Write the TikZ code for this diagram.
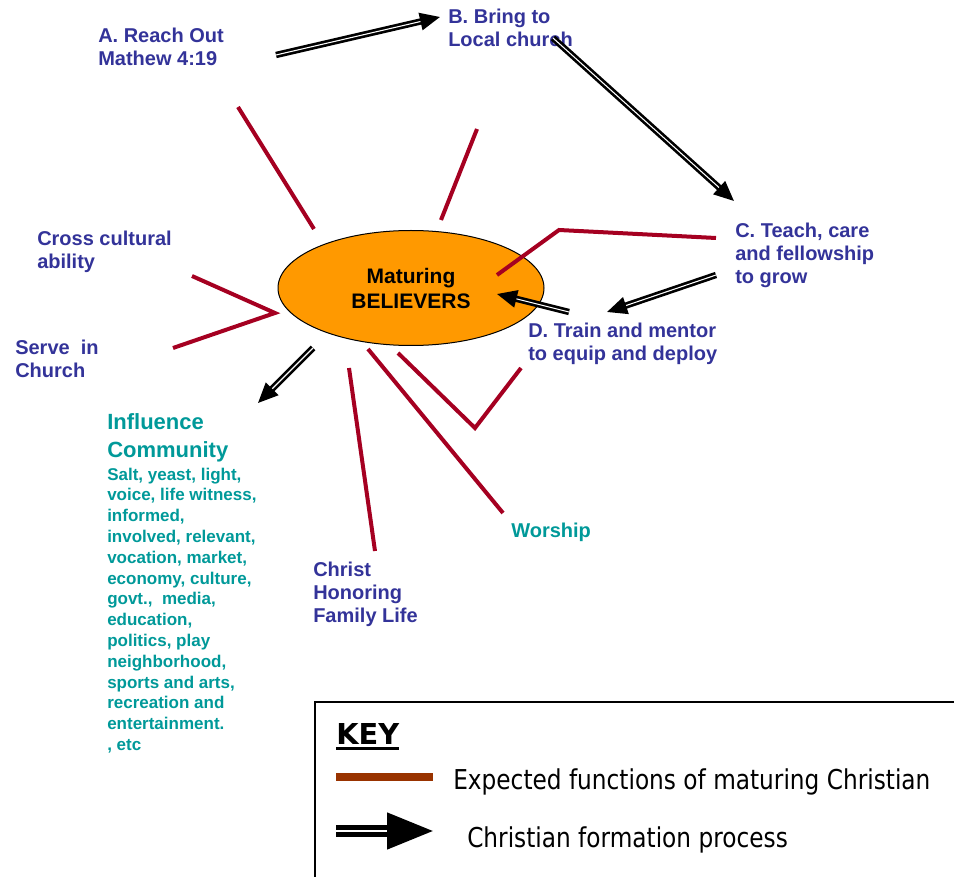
\documentclass[tikz,border=0pt]{standalone}
\usepackage{fontspec}
\setmainfont{Liberation Sans}
\newfontfamily\keyfont[FakeStretch=0.85]{DejaVu Sans}
\newfontfamily\keyhead{DejaVu Sans}
\usepackage{tikz}
\usetikzlibrary{arrows.meta,shapes.geometric}
\usepackage{xcolor}
\definecolor{lblblue}{RGB}{51,51,153}
\definecolor{infl}{RGB}{0,153,153}
\definecolor{fnred}{RGB}{165,0,33}
\definecolor{keybrown}{RGB}{153,51,0}
\definecolor{hubfill}{RGB}{255,153,0}
\newcommand{\fsz}[2]{\fontsize{#1}{#2}\selectfont}

\begin{document}
\begin{tikzpicture}[
    x=0.75pt, y=-0.75pt,
    every node/.style={inner sep=0pt},
    lbl/.style={
        anchor=north west, align=left, text=lblblue,
        font=\fsz{15pt}{17.25pt}\bfseries
    },
    infllbl/.style={lbl, text=infl},
    hub/.style={
        ellipse, draw=black, line width=0.75pt, fill=hubfill,
        minimum width=199.5pt, minimum height=86.25pt, align=center,
        font=\fsz{15.75pt}{18.75pt}\bfseries
    },
    fnline/.style={draw=fnred, line width=3pt},
    proc/.style={
        draw=black, line width=2pt, double=white, double distance=0.8pt,
        -{Triangle[length=15pt,width=13pt]}
    },
    keyframe/.style={draw=black, line width=1.1pt},
    keytext/.style={anchor=base west, font=\keyfont\fsz{20.5pt}{24pt}}
]
\useasboundingbox (0,0) rectangle (954,877);

% ── Hub ─────────────────────────────────────────────────────
\node[hub] (mb) at (411,288) {Maturing\\BELIEVERS};

% ── Labels ──────────────────────────────────────────────────
\node[lbl] (reach)  at (98,27.5)   {A. Reach Out\\Mathew 4:19};
\node[lbl] (bring)  at (448,8.5)   {B. Bring to\\Local church};
\node[lbl] (teach)  at (735,222.5) {C. Teach, care\\and fellowship\\to grow};
\node[lbl] (train)  at (528,322.5) {D. Train and mentor\\to equip and deploy};
\node[lbl] (cross)  at (37,230.5)  {Cross cultural\\ability};
\node[lbl] (serve)  at (15,339.5)  {Serve\ \ in\\Church};
\node[lbl] (family) at (313,561.5) {Christ\\Honoring\\Family Life};
\node[infllbl] (worship) at (511,522.5) {Worship};
\node[infllbl, font=\fsz{16.5pt}{21pt}\bfseries] (infl) at (107,413) {Influence\\Community};
\node[infllbl, font=\fsz{12.75pt}{15.6pt}\bfseries] (inflist) at (107,467.6) {%
  Salt, yeast, light,\\ voice, life witness,\\ informed,\\ involved, relevant,\\
  vocation, market,\\ economy, culture,\\ govt.,\ \ media,\\ education,\\
  politics, play\\ neighborhood,\\ sports and arts,\\ recreation and\\
  entertainment.\\ , etc};

% ── Function lines (ends) ───────────────────────────────────
\coordinate (fa0) at (238,107); \coordinate (fa1) at (314,229);
\coordinate (fb0) at (477,129); \coordinate (fb1) at (441,220);
\coordinate (fc0) at (192,276); \coordinate (fc1) at (275,313); \coordinate (fc2) at (173,348);
\coordinate (fd0) at (497,275); \coordinate (fd1) at (559,230); \coordinate (fd2) at (716,238);
\coordinate (fe0) at (349,368); \coordinate (fe1) at (375,551);
\coordinate (ff0) at (368,349); \coordinate (ff1) at (503,513);
\coordinate (fg0) at (398,353); \coordinate (fg1) at (475,428); \coordinate (fg2) at (521,368);

\draw[fnline] (fa0) -- (fa1);
\draw[fnline] (fb0) -- (fb1);
\draw[fnline] (fc0) -- (fc1) -- (fc2);
\draw[fnline] (fd0) -- (fd1) -- (fd2);
\draw[fnline] (fe0) -- (fe1);
\draw[fnline] (ff0) -- (ff1);
\draw[fnline] (fg0) -- (fg1) -- (fg2);

% ── Formation process arrows ────────────────────────────────
\coordinate (pa0) at (276,55);  \coordinate (pa1) at (440,17);
\coordinate (pb0) at (553,38);  \coordinate (pb1) at (734,201);
\coordinate (pc0) at (716,275); \coordinate (pc1) at (607,312);
\coordinate (pd0) at (569,312); \coordinate (pd1) at (497,294);
\coordinate (pe0) at (313,348); \coordinate (pe1) at (258,403);

\foreach \s in {pa,pb,pc,pd,pe} {
  \draw[proc] (\s0) -- (\s1);
}

% ── Key ─────────────────────────────────────────────────────
\draw[keyframe] (315,702) rectangle (980,900);
\node[anchor=base west, font=\keyhead\bfseries\fsz{21.6pt}{24pt}] (keyhd) at (336,744) {KEY};
\draw[line width=2.25pt] ([yshift=-3.4pt]keyhd.base west) -- ([yshift=-3.4pt]keyhd.base east);

\draw[draw=keybrown, line width=5.5pt] (336,777) -- (433,777);
\draw[draw=black, line width=3.6pt, double=white, double distance=1.8pt,
      -{Triangle[length=34.5pt,width=27pt]}] (336,831) -- (433,831);

\node[keytext] (keyfn)   at (453,789) {Expected functions of maturing Christian};
\node[keytext] (keyproc) at (467,847) {Christian formation process};

\end{tikzpicture}
\end{document}
